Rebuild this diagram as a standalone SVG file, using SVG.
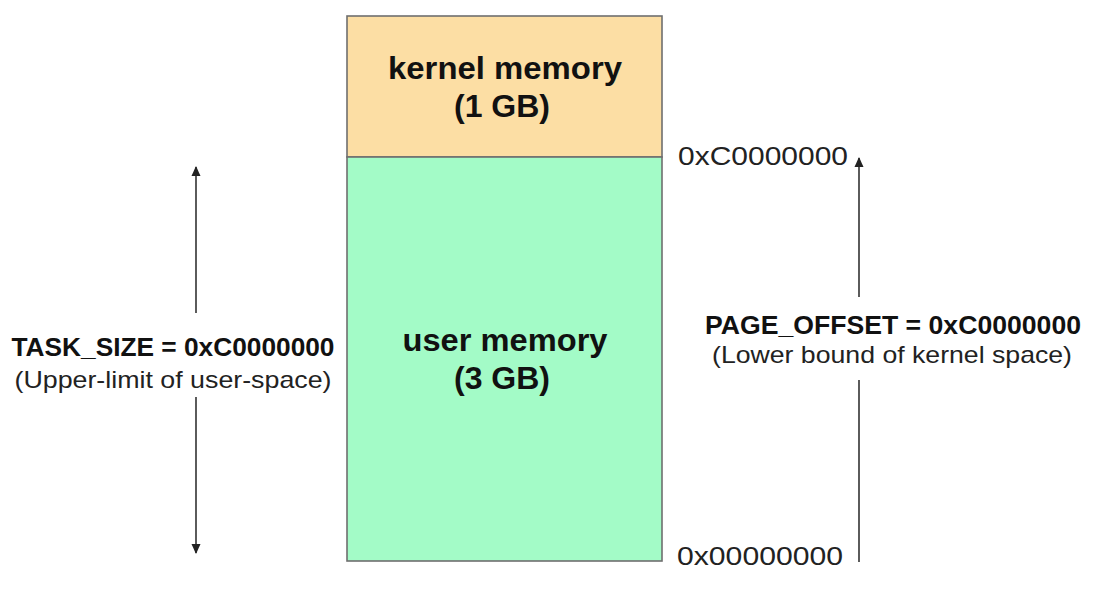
<svg xmlns="http://www.w3.org/2000/svg" width="1104" height="604" viewBox="0 0 1104 604">
<style>
.box{stroke:#6f6f6f;stroke-width:1.6}
.title{font-family:"Liberation Sans",Arial,sans-serif;font-weight:bold;font-size:32px;fill:#111;text-anchor:middle}
.lb{font-family:"Liberation Sans",Arial,sans-serif;font-weight:bold;font-size:26px;fill:#111;text-anchor:middle}
.ln{font-family:"Liberation Sans",Arial,sans-serif;font-size:24px;fill:#222;text-anchor:middle}
.addr{font-family:"Liberation Sans",Arial,sans-serif;font-size:26px;fill:#222}
.conn{stroke:#333;stroke-width:1.6;fill:none}
</style>
<defs>
<marker id="ah" viewBox="0 0 10 10" refX="9" refY="5" markerWidth="10" markerHeight="10" markerUnits="userSpaceOnUse" orient="auto">
<path d="M0,0.5 L10,5 L0,9.5 z" fill="#222"/>
</marker>
</defs>
<rect x="0" y="0" width="1104" height="604" fill="#ffffff"/>
<g id="kernel-memory">
<rect class="box" x="347" y="16" width="315" height="141" fill="#fcdea4"/>
<text class="title" x="505" y="79" textLength="234" lengthAdjust="spacingAndGlyphs">kernel memory</text>
<text class="title" x="502" y="117">(1 GB)</text>
</g>
<g id="user-memory">
<rect class="box" x="347" y="157" width="315" height="404" fill="#a3fbc7"/>
<text class="title" x="505" y="351" textLength="205" lengthAdjust="spacingAndGlyphs">user memory</text>
<text class="title" x="502" y="389">(3 GB)</text>
</g>
<g id="connectors">
<line class="conn" x1="196" y1="313" x2="196" y2="167" marker-end="url(#ah)"/>
<line class="conn" x1="196" y1="397" x2="196" y2="553" marker-end="url(#ah)"/>
<line class="conn" x1="859" y1="297" x2="859" y2="158" marker-end="url(#ah)"/>
<line class="conn" x1="859" y1="380" x2="859" y2="562"/>
</g>
<g id="task-size-label">
<text class="lb" x="173" y="356" textLength="323" lengthAdjust="spacingAndGlyphs">TASK_SIZE = 0xC0000000</text>
<text class="ln" x="173" y="388" textLength="317" lengthAdjust="spacingAndGlyphs">(Upper-limit of user-space)</text>
</g>
<g id="page-offset-label">
<text class="lb" x="893" y="334" textLength="376" lengthAdjust="spacingAndGlyphs">PAGE_OFFSET = 0xC0000000</text>
<text class="ln" x="892" y="363" textLength="360" lengthAdjust="spacingAndGlyphs">(Lower bound of kernel space)</text>
</g>
<g id="addr-top">
<text class="addr" x="678" y="165" textLength="170" lengthAdjust="spacingAndGlyphs">0xC0000000</text>
</g>
<g id="addr-bottom">
<text class="addr" x="677" y="565" textLength="166" lengthAdjust="spacingAndGlyphs">0x00000000</text>
</g>
</svg>
